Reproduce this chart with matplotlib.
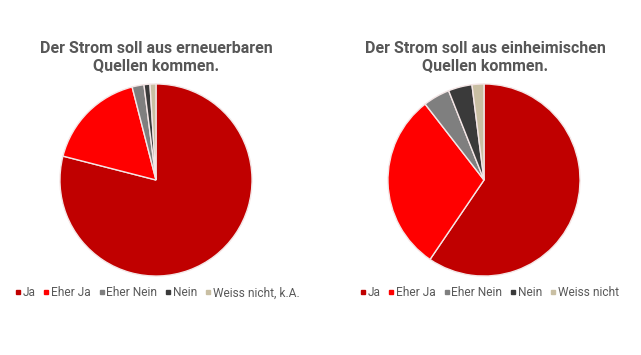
import matplotlib.pyplot as plt
from matplotlib.lines import Line2D

# Antwortkategorien
labels_left = ["Ja", "Eher Ja", "Eher Nein", "Nein", "Weiss nicht, k.A."]
labels_right = ["Ja", "Eher Ja", "Eher Nein", "Nein", "Weiss nicht"]
# Anteile in %
vals_left = [79, 17, 2, 1, 1]
vals_right = [59.5, 30, 4.5, 4, 2]
titles = ["Der Strom soll aus erneuerbaren\nQuellen kommen.",
          "Der Strom soll aus einheimischen\nQuellen kommen."]
colors = ["#c00000", "#ff0000", "#7f7f7f", "#3a3a3a", "#c9bfa3"]

fig = plt.figure(figsize=(6.41, 3.55), dpi=100)
W, H = 641, 355

def px_axes(cx, cy, r):
    return fig.add_axes([(cx - r) / W, 1 - (cy + r) / H, 2 * r / W, 2 * r / H])

ax1 = px_axes(156, 180, 97)
ax2 = px_axes(484, 180, 97)

for ax, vals in [(ax1, vals_left), (ax2, vals_right)]:
    ax.pie(vals, colors=colors, startangle=90, counterclock=False,
           wedgeprops=dict(edgecolor="#f4e6e6", linewidth=1.0))
    ax.set_xlim(-1.01, 1.01)
    ax.set_ylim(-1.01, 1.01)
    ax.set_aspect("equal")

tfont = dict(ha="center", va="center", fontsize=11.5, fontweight="bold",
             color="#575757", linespacing=1.2, family="Roboto")
fig.text(156 / W, 1 - 57 / H, titles[0], **tfont)
fig.text(485 / W, 1 - 57 / H, titles[1], **tfont)

def legend_at(labels, x0):
    handles = [Line2D([], [], marker="s", linestyle="none", markersize=2.5,
                      color=c) for c in colors]
    fig.legend(handles, labels, loc="center left", bbox_to_anchor=(x0 / W, 1 - 293 / H),
               ncol=5, frameon=False, labelcolor="#595959",
               prop=dict(family="Roboto", size=8.6),
               handlelength=0.3, handletextpad=0.25, columnspacing=0.75,
               borderaxespad=0, borderpad=0)

legend_at(labels_left, 16)
legend_at(labels_right, 361)

fig.savefig("out.png", dpi=100)
